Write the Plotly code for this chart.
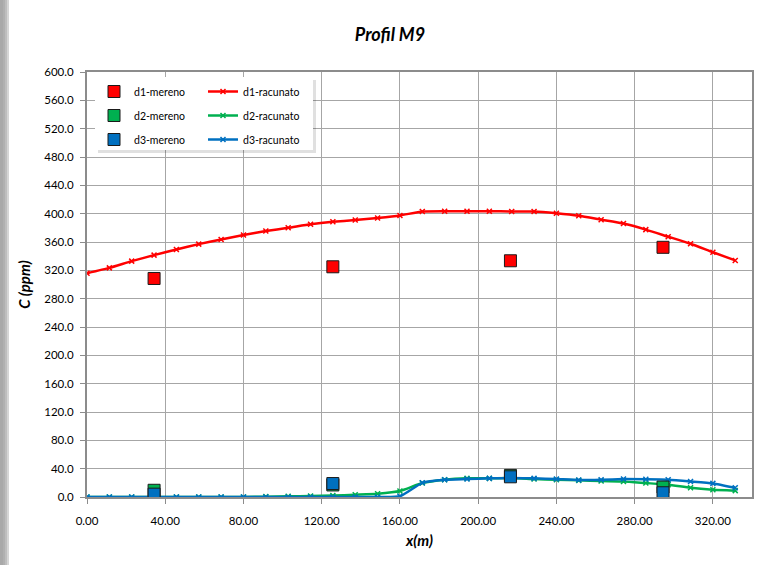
import plotly.graph_objects as go

# measured points
x_meas = [34.3, 125.7, 216.5, 294.5]
d1_meas = [308.5, 325.0, 333.5, 352.5]
d2_meas = [9.5, 17.0, 30.5, 14.0]
d3_meas = [4.0, 19.0, 28.5, 6.0]

# computed profile
x_calc = [0.00, 11.43, 22.86, 34.29, 45.71, 57.14, 68.57, 80.00, 91.43, 102.86,
          114.29, 125.71, 137.14, 148.57, 160.00, 171.43, 182.86, 194.29, 205.71, 217.14,
          228.57, 240.00, 251.43, 262.86, 274.29, 285.71, 297.14, 308.57, 320.00, 331.43]
d1_calc = [316, 323.5, 333, 341.5, 349.5, 357, 363.5, 370, 375.5, 380,
           385, 388.5, 391, 394, 397.5, 403, 403.5, 403.5, 403.5, 403,
           403, 400.5, 397, 391.5, 386, 377.5, 367.5, 357.5, 345.5, 334]
d2_calc = [0, 0, 0, 0, 0, 0, 0, 0, 0.5, 1,
           1.4, 2, 3.3, 4.7, 8.4, 19.7, 24.4, 26.3, 26.3, 26.7,
           25.3, 24.4, 23.5, 22.5, 22, 19.7, 17.4, 13, 10.3, 9]
d3_calc = [0, 0, 0, 0, 0, 0, 0, 0, 0, 0,
           0, 0, 0, 0, 1, 20, 24.4, 25.3, 26.3, 26.7,
           26.3, 25.3, 24, 24.4, 25.3, 25, 24.4, 22, 19.2, 13]

RED = "#ff0000"
GREEN = "#00b050"
BLUE = "#0070c0"
FONT = "Lato"

fig = go.Figure()

for name, ys, col in [("d1-racunato", d1_calc, RED),
                      ("d2-racunato", d2_calc, GREEN),
                      ("d3-racunato", d3_calc, BLUE)]:
    fig.add_trace(go.Scatter(
        x=x_calc, y=ys, name=name, mode="lines+markers", legend="legend2",
        legendgroup=name,
        line=dict(color=col, width=2.5, shape="spline", smoothing=0.5),
        marker=dict(symbol="x-thin", size=5, color=col, line=dict(color=col, width=1.5)),
    ))

for name, ys, col in [("d1-mereno", d1_meas, RED),
                      ("d2-mereno", d2_meas, GREEN),
                      ("d3-mereno", d3_meas, BLUE)]:
    fig.add_trace(go.Scatter(
        x=x_meas, y=ys, name=name, mode="markers", legend="legend",
        legendgroup=name,
        marker=dict(symbol="square", size=12, color=col, line=dict(color="#1a1a1a", width=1)),
    ))

axis_common = dict(
    showgrid=True, gridcolor="#a6a6a6", gridwidth=1,
    showline=True, linecolor="#8c8c8c", linewidth=2, mirror=True,
    ticks="outside", ticklen=5, tickcolor="#8c8c8c",
    tickfont=dict(family=FONT, size=11.5, color="#000000"),
    zeroline=False, dtick=40,
)
title_font = dict(family=FONT, size=15, weight="bold", style="italic", color="#000000")

fig.update_xaxes(range=[0, 340], tick0=0, tickformat=".2f", ticklabelstandoff=7,
                 title=dict(text="x(m)", standoff=10, font=title_font),
                 **axis_common)
fig.update_yaxes(range=[0, 600], tick0=0, tickformat=".1f", ticklabelstandoff=4,
                 title=dict(text="C (ppm)", standoff=10, font=title_font),
                 automargin=False, **axis_common)

legend_common = dict(
    bgcolor="rgba(0,0,0,0)", borderwidth=0, orientation="v",
    font=dict(family=FONT, size=10.5, color="#000000"),
    xanchor="left", yanchor="top", tracegroupgap=5,
)

# legend box with a soft shadow, chart-area shadow on the left edge
pw = 780 - 87 - 28
ph = 565 - 72 - 68
def px(x):
    return (x - 87) / pw
def py(y):
    return 1 - (y - 72) / ph

shapes = [
    dict(type="rect", xref="paper", yref="paper", x0=px(98), x1=px(316), y0=py(153), y1=py(80),
         fillcolor="rgba(0,0,0,0.12)", line=dict(width=0), layer="above"),
    dict(type="rect", xref="paper", yref="paper", x0=px(95), x1=px(313), y0=py(150), y1=py(77),
         fillcolor="#ffffff", line=dict(width=0), layer="above"),
]
for i, a in enumerate([0.16, 0.11, 0.07, 0.04]):
    shapes.append(dict(type="rect", xref="paper", yref="paper",
                       x0=px(0), x1=px(9 - 2 * i), y0=py(565), y1=py(0),
                       fillcolor=f"rgba(0,0,0,{a})", line=dict(width=0), layer="below"))

fig.update_layout(
    width=780, height=565,
    margin=dict(l=87, r=28, t=72, b=68),
    paper_bgcolor="#ffffff", plot_bgcolor="#ffffff",
    title=dict(text="Profil M9", x=0.5, xanchor="center", y=1 - 35 / 565, yanchor="middle",
               font=dict(family=FONT, size=18, weight="bold", style="italic", color="#000000")),
    legend=dict(x=px(94), y=py(77), **legend_common),
    legend2=dict(x=px(203), y=py(77), **legend_common),
    shapes=shapes,
    showlegend=True,
)

fig.write_html("out.html", config={"displayModeBar": False},
               post_script="document.body.style.margin='0';")
